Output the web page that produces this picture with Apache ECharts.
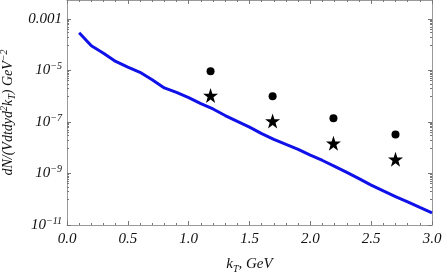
<!DOCTYPE html>
<html><head><meta charset="utf-8">
<script src="https://cdn.jsdelivr.net/npm/echarts@6/dist/echarts.min.js"></script>
<style>html,body{margin:0;padding:0;background:#fff}#c{width:442px;height:272px}</style>
</head><body><div id="c"></div>
<script>
const kT = [0.1,0.2,0.3,0.4,0.5,0.6,0.7,0.8,0.9,1.0,1.1,1.2,1.3,1.4,1.5,1.6,1.7,1.8,1.9,2.0,2.1,2.2,2.3,2.4,2.5,2.6,2.7,2.8,2.9,3.0];
const curve = [2.95e-4,9.1e-5,4.7e-5,2.24e-5,1.35e-5,8.5e-6,4.4e-6,2.1e-6,1.41e-6,8.9e-7,5.2e-7,3.2e-7,1.78e-7,1.05e-7,6.3e-8,3.55e-8,2.1e-8,1.35e-8,8.7e-9,5.2e-9,3.2e-9,1.9e-9,1.1e-9,6.3e-10,3.55e-10,2.1e-10,1.26e-10,7.9e-11,4.8e-11,2.95e-11];
const ptX = [1.18,1.69,2.19,2.70];
const circles = [9.3e-6,1.0e-6,1.4e-7,3.3e-8];
const stars = [1.07e-6,1.1e-7,1.5e-8,3.6e-9];
const xTicks = ['0.0','0.5','1.0','1.5','2.0','2.5','3.0'];
const yMajor = [1e-3,1e-5,1e-7,1e-9,1e-11];
const yLabels = ['0.001','10{s|−5}','10{s|−7}','10{s|−9}','10{s|−11}'];

const yMinor = [];
yMajor.forEach(m => { const b = m/10; if (b >= 1e-11) { yMinor.push(b); for (let n=2;n<=9;n++) yMinor.push(n*b); } });

const font = 'Liberation Serif';
const FS = 15, SS = 10, TC = '#111';
const lblRich = { s: { fontSize: SS, fontStyle:'italic', fontFamily: font, color:TC, verticalAlign:'bottom', padding:[0,0,8,0] } };
const frame = { lineStyle: { color: '#999', width: 1 } };
const YMIN = 1e-11, YMAX = 5.47e-3;

function yAx(pos, major, showLbl) {
  return {
    type:'log', logBase:10, min:YMIN, max:YMAX, position:pos,
    axisLine:{ show:true, onZero:false, ...frame },
    splitLine:{ show:false },
    axisTick:{ show:true, inside:true, length: major?4:2, lineStyle:{color:'#777'}, customValues: major?yMajor:yMinor },
    axisLabel:{ show:showLbl, customValues:yMajor, margin:5, fontFamily:font, fontStyle:'italic', fontSize:FS, color:TC, rich:lblRich,
      formatter: v => { const i = yMajor.findIndex(m => Math.abs(Math.log10(m)-Math.log10(v))<1e-6); return i<0?'':yLabels[i]; } }
  };
}
function xAx(pos, showLbl) {
  return {
    type:'value', min:0, max:3, interval:0.5, position:pos,
    axisLine:{ show:true, onZero:false, ...frame },
    splitLine:{ show:false },
    axisTick:{ show:true, inside:true, length:4, lineStyle:{color:'#777'} },
    minorTick:{ show:true, splitNumber:5, length:2, lineStyle:{color:'#777'} },
    axisLabel:{ show:showLbl, margin:7, fontFamily:font, fontStyle:'italic', fontSize:FS, color:TC,
      formatter: v => xTicks[Math.round(v/0.5)] || '' },
    name: showLbl ? 'k{sub|T}, GeV' : '', nameLocation:'middle', nameGap:30,
    nameTextStyle:{ fontFamily:font, fontStyle:'italic', fontSize:FS, color:TC,
      rich:{ sub:{ fontFamily:font, fontStyle:'italic', fontSize:SS, color:TC, verticalAlign:'top', padding:[9,0,0,0] } } }
  };
}
const yA = [yAx('left',true,true), yAx('left',false,false), yAx('right',true,false), yAx('right',false,false)];
yA[0].name = 'dN/(Vdtdyd{sup|2}k{sub|T}) GeV{sup|−2}';
yA[0].nameLocation = 'middle';
yA[0].nameGap = 45;
yA[0].nameTextStyle = { fontFamily:font, fontStyle:'italic', fontSize:14, color:TC,
  rich:{ sup:{ fontFamily:font, fontStyle:'italic', fontSize:SS, color:TC, verticalAlign:'bottom', padding:[0,0,8,0] },
         sub:{ fontFamily:font, fontStyle:'italic', fontSize:SS, color:TC, verticalAlign:'top', padding:[8,0,0,0] } } };

const star = 'path://M50,0 L61.8,35.1 L98.1,35.1 L68.8,56.8 L79.4,91.9 L50,70.2 L20.6,91.9 L31.2,56.8 L1.9,35.1 L38.2,35.1 Z';

const chart = echarts.init(document.getElementById('c'), null, {renderer:'canvas'});
chart.setOption({
  animation:false,
  backgroundColor:'#fff',
  grid:{ left:67, right:10, top:0, bottom:47, containLabel:false, outerBoundsMode:'none' },
  xAxis:[ xAx('bottom',true), xAx('top',false) ],
  yAxis: yA,
  series:[
    { type:'line', data: kT.map((x,i)=>[x,curve[i]]), showSymbol:false, lineStyle:{ color:'#1010e8', width:3 }, z:3 },
    { type:'scatter', data: ptX.map((x,i)=>[x,circles[i]]), symbol:'circle', symbolSize:8, itemStyle:{ color:'#000', opacity:1 } },
    { type:'scatter', data: ptX.map((x,i)=>[x,stars[i]]), symbol:star, symbolSize:15, itemStyle:{ color:'#000', opacity:1 } }
  ]
});
</script></body></html>
